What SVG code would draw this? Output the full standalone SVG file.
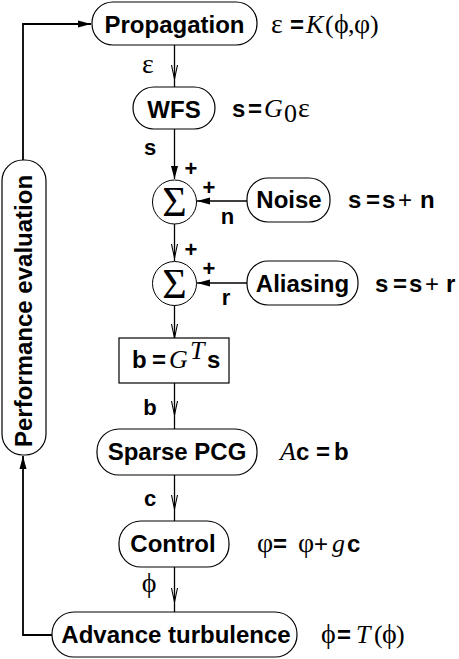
<svg xmlns="http://www.w3.org/2000/svg" width="459" height="659" viewBox="0 0 459 659">
<style>
.box{fill:#fff;stroke:#000;stroke-width:1.2}
.lbl{font-family:"Liberation Sans",Arial,sans-serif;font-weight:bold;font-size:24px;fill:#000}
.sb{font-family:"Liberation Sans",Arial,sans-serif;font-weight:bold;font-size:22px;fill:#000}
.pl{font-family:"Liberation Sans",Arial,sans-serif;font-weight:normal;font-size:24px;fill:#000}
.m{font-family:"Liberation Serif","DejaVu Serif",serif;font-size:26px;fill:#000}
.g{font-family:"Liberation Serif","DejaVu Serif",serif;font-size:28px;fill:#000}
.mi{font-family:"Liberation Serif","DejaVu Serif",serif;font-style:italic;font-size:26px;fill:#000}
.sig{font-family:"Liberation Serif","DejaVu Serif",serif;font-size:42px;fill:#000}
.ln{fill:none;stroke:#000;stroke-width:1.3}
.fb{fill:none;stroke:#000;stroke-width:1.8}
</style>
<defs>
<marker id="v" viewBox="0 0 14 8" refX="14" refY="4" markerWidth="14" markerHeight="8" markerUnits="userSpaceOnUse" orient="auto">
<path d="M0,1 L14,4 L0,7" fill="none" stroke="#000" stroke-width="1.1"/>
</marker>
<marker id="f" viewBox="0 0 13 8" refX="13" refY="4" markerWidth="13" markerHeight="8" markerUnits="userSpaceOnUse" orient="auto">
<path d="M0,0.5 L13,4 L0,7.5 Z" fill="#000"/>
</marker>
</defs>

<g id="connectors">
<path class="ln" d="M174.5,45 L174.5,79 L174.5,87" marker-mid="url(#v)"/>
<path class="ln" d="M174.5,129 L174.5,179" marker-end="url(#f)"/>
<path class="ln" d="M247,201 L197,201" marker-end="url(#f)"/>
<path class="ln" d="M174.5,224 L174.5,258 L174.5,261" marker-mid="url(#v)"/>
<path class="ln" d="M247,283 L197,283" marker-end="url(#f)"/>
<path class="ln" d="M174.5,305 L174.5,338" marker-end="url(#v)"/>
<path class="ln" d="M174.5,383 L174.5,415 L174.5,429" marker-mid="url(#v)"/>
<path class="ln" d="M174.5,475 L174.5,509 L174.5,521" marker-mid="url(#v)"/>
<path class="ln" d="M174.5,567 L174.5,602 L174.5,612" marker-mid="url(#v)"/>
<path class="fb" d="M52,635 L23,635 L23,456" marker-end="url(#f)"/>
<path class="fb" d="M23,160 L23,24 L91,24" marker-end="url(#f)"/>
</g>

<g id="propagation">
<rect class="box" x="92" y="2" width="165" height="43" rx="21" ry="21"/>
<text class="lbl" x="174.5" y="33" text-anchor="middle">Propagation</text>
<text y="33"><tspan class="g" x="271">ε</tspan><tspan class="lbl" x="290">=</tspan><tspan class="mi" x="306">K</tspan><tspan class="m" x="325">(</tspan><tspan class="g" x="334">ϕ</tspan><tspan class="m" x="348">,</tspan><tspan class="g" x="354">φ</tspan><tspan class="m" x="370">)</tspan></text>
</g>

<g id="wfs">
<rect class="box" x="133" y="87" width="82" height="42" rx="21" ry="21"/>
<text class="lbl" x="174" y="118" text-anchor="middle">WFS</text>
<text y="117"><tspan class="lbl" x="232">s</tspan><tspan class="lbl" x="248">=</tspan><tspan class="mi" x="264">G</tspan><tspan class="m" x="284" dy="5" font-size="17">0</tspan><tspan class="g" x="298" dy="-5">ε</tspan></text>
</g>

<g id="sum1">
<circle cx="174.5" cy="202" r="22" fill="#fff" stroke="#000" stroke-width="1"/>
<text class="sig" x="174.5" y="216" text-anchor="middle">Σ</text>
<text class="sb" x="191" y="175.5" text-anchor="middle">+</text>
<text class="sb" x="209" y="194.5" text-anchor="middle">+</text>
</g>

<g id="noise">
<rect class="box" x="247" y="178" width="83" height="44" rx="21" ry="21"/>
<text class="lbl" x="289" y="208" text-anchor="middle">Noise</text>
<text y="208"><tspan class="lbl" x="348">s</tspan><tspan class="lbl" x="366">=</tspan><tspan class="lbl" x="382">s</tspan><tspan class="pl" x="398">+</tspan><tspan class="lbl" x="420">n</tspan></text>
</g>

<g id="sum2">
<circle cx="174.5" cy="283.5" r="22" fill="#fff" stroke="#000" stroke-width="1"/>
<text class="sig" x="174.5" y="297.5" text-anchor="middle">Σ</text>
<text class="sb" x="191" y="256.5" text-anchor="middle">+</text>
<text class="sb" x="209" y="275.5" text-anchor="middle">+</text>
</g>

<g id="aliasing">
<rect class="box" x="247" y="261" width="111" height="44" rx="21" ry="21"/>
<text class="lbl" x="302.5" y="292" text-anchor="middle">Aliasing</text>
<text y="292"><tspan class="lbl" x="375">s</tspan><tspan class="lbl" x="393">=</tspan><tspan class="lbl" x="409">s</tspan><tspan class="pl" x="425">+</tspan><tspan class="lbl" x="446">r</tspan></text>
</g>

<g id="labels">
<text class="g" x="148" y="73" text-anchor="middle">ε</text>
<text class="sb" x="150" y="155" text-anchor="middle">s</text>
<text class="sb" x="227.5" y="224" text-anchor="middle">n</text>
<text class="sb" x="226" y="305" text-anchor="middle">r</text>
<text class="sb" x="150" y="415" text-anchor="middle">b</text>
<text class="sb" x="150" y="506" text-anchor="middle">c</text>
<text class="g" x="149" y="592" text-anchor="middle">ϕ</text>
</g>

<g id="transpose">
<rect x="119" y="338" width="110" height="45" fill="#fff" stroke="#000" stroke-width="1.2"/>
<text y="368"><tspan class="lbl" x="132">b</tspan><tspan class="lbl" x="152">=</tspan><tspan class="mi" x="169">G</tspan><tspan class="mi" x="190" dy="-9" font-size="16">T</tspan><tspan class="lbl" x="207" dy="9">s</tspan></text>
</g>

<g id="sparsepcg">
<rect class="box" x="97" y="429" width="160" height="46" rx="22" ry="22"/>
<text class="lbl" x="177" y="460" text-anchor="middle">Sparse PCG</text>
<text y="460"><tspan class="mi" x="280">A</tspan><tspan class="lbl" x="296">c</tspan><tspan class="lbl" x="316">=</tspan><tspan class="lbl" x="334">b</tspan></text>
</g>

<g id="control">
<rect class="box" x="119" y="521" width="110" height="46" rx="22" ry="22"/>
<text class="lbl" x="173" y="552" text-anchor="middle">Control</text>
<text y="552"><tspan class="g" x="257">φ</tspan><tspan class="lbl" x="273">=</tspan><tspan class="g" x="298">φ</tspan><tspan class="pl" x="314">+</tspan><tspan class="mi" x="332">g</tspan><tspan class="lbl" x="347">c</tspan></text>
</g>

<g id="advance">
<rect class="box" x="52" y="612" width="245" height="45" rx="22" ry="22"/>
<text class="lbl" x="176" y="643" text-anchor="middle">Advance turbulence</text>
<text y="643"><tspan class="g" x="321">ϕ</tspan><tspan class="lbl" x="337">=</tspan><tspan class="mi" x="356">T</tspan><tspan class="m" x="374">(</tspan><tspan class="g" x="382">ϕ</tspan><tspan class="m" x="396">)</tspan></text>
</g>

<g id="performance">
<rect class="box" x="2" y="160" width="44" height="295" rx="21" ry="21"/>
<text class="lbl" transform="translate(32,311) rotate(-90)" x="0" y="0" text-anchor="middle">Performance evaluation</text>
</g>
</svg>
